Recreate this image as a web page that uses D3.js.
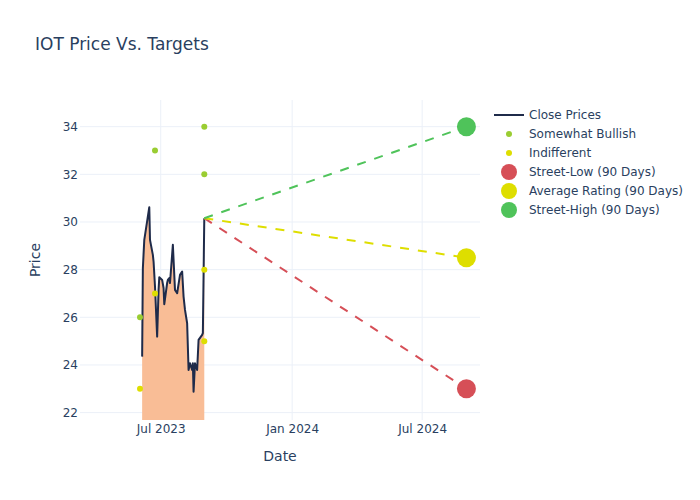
<!DOCTYPE html>
<html>
<head>
<meta charset="utf-8">
<script src="https://cdn.jsdelivr.net/npm/d3@7"></script>
<style>
  html, body { margin: 0; padding: 0; background: #fff; }
  svg { display: block; font-family: "DejaVu Sans", sans-serif; }
</style>
</head>
<body>
<svg id="chart" width="700" height="500"></svg>
<script>
// ---- data ----
const closeDates = ["2023-06-05","2023-06-06","2023-06-08","2023-06-15","2023-06-16","2023-06-20","2023-06-21","2023-06-23","2023-06-26","2023-06-28","2023-06-29","2023-07-03","2023-07-05","2023-07-06","2023-07-10","2023-07-11","2023-07-13","2023-07-14","2023-07-18","2023-07-21","2023-07-24","2023-07-28","2023-07-31","2023-08-02","2023-08-04","2023-08-07","2023-08-09","2023-08-11","2023-08-14","2023-08-15","2023-08-16","2023-08-18","2023-08-21","2023-08-23","2023-08-28","2023-08-29","2023-08-31"];
const closePrices = [24.35,28.06,29.25,30.62,29.25,28.62,28.34,27.29,25.19,27.15,27.68,27.57,27.23,26.55,27.44,27.57,27.65,27.44,29.04,27.15,27.01,27.78,27.92,26.87,26.31,25.75,23.79,24.07,23.79,24.07,22.88,24.07,23.79,25.05,25.26,25.34,30.16];

const bullishDates = ["2023-06-02","2023-06-23","2023-08-31","2023-08-31"];
const bullishValues = [26, 33, 34, 32];
const indifferentDates = ["2023-06-02","2023-06-23","2023-08-31","2023-08-31"];
const indifferentValues = [23, 27, 28, 25];

const targetStartDate = "2023-08-31";
const targetStartPrice = 30.16;
const targetDate = "2024-09-01";
const targetNames = ["Street-Low (90 Days)", "Average Rating (90 Days)", "Street-High (90 Days)"];
const targetValues = [23, 28.5, 34];
const targetColors = ["#d64f57", "#dede00", "#4fc35a"];

const xTickDates = ["2023-07-01","2024-01-01","2024-07-01"];
const xTickLabels = ["Jul 2023","Jan 2024","Jul 2024"];
const yTicks = [22,24,26,28,30,32,34];

// ---- layout ----
const parse = d3.utcParse("%Y-%m-%d");
const svg = d3.select("#chart");
const L = 80, R = 480, T = 100, B = 420;
const textColor = "#2a3f5f";
const gridColor = "#ebf0f8";
const fontFam = "'DejaVu Sans', sans-serif";

const x = d3.scaleUtc()
  .domain([parse("2023-03-10"), parse("2024-09-20")])
  .range([L, R]);
const y = d3.scaleLinear().domain([21.69, 35.12]).range([B, T]);

svg.append("defs").append("clipPath").attr("id","clip")
  .append("rect").attr("x", L).attr("y", T).attr("width", R-L).attr("height", B-T);

// grid
const grid = svg.append("g");
grid.selectAll(".gx").data(xTickDates).join("line")
  .attr("x1", d => x(parse(d))).attr("x2", d => x(parse(d)))
  .attr("y1", T).attr("y2", B).attr("stroke", gridColor).attr("stroke-width", 1);
grid.selectAll(".gy").data(yTicks).join("line")
  .attr("x1", L).attr("x2", R)
  .attr("y1", d => y(d)).attr("y2", d => y(d)).attr("stroke", gridColor).attr("stroke-width", 1);

// axes
const xAxis = d3.axisBottom(x)
  .tickValues(xTickDates.map(parse))
  .tickFormat((d, i) => xTickLabels[i])
  .tickSize(0).tickPadding(4);
const gx = svg.append("g").attr("transform", `translate(0,${B})`).call(xAxis);
gx.select(".domain").remove();
gx.selectAll("text").attr("fill", textColor).style("font-size", "12px").style("font-family", fontFam);

const yAxis = d3.axisLeft(y).tickValues(yTicks).tickFormat(d3.format("d")).tickSize(0).tickPadding(2);
const gy = svg.append("g").attr("transform", `translate(${L},0)`).call(yAxis);
gy.select(".domain").remove();
gy.selectAll("text").attr("fill", textColor).style("font-size", "12px").style("font-family", fontFam);

// plot content
const plot = svg.append("g").attr("clip-path", "url(#clip)");
const closeData = closeDates.map((d, i) => ({ date: parse(d), v: closePrices[i] }));

plot.append("path").datum(closeData)
  .attr("d", d3.area().x(d => x(d.date)).y0(y(0)).y1(d => y(d.v)))
  .attr("fill", "#f9bd96");
plot.append("path").datum(closeData)
  .attr("d", d3.line().x(d => x(d.date)).y(d => y(d.v)))
  .attr("fill", "none").attr("stroke", "#1f2b4a").attr("stroke-width", 2)
  .attr("stroke-linejoin", "round");

// target lines
targetValues.forEach((v, i) => {
  plot.append("line")
    .attr("x1", x(parse(targetStartDate))).attr("y1", y(targetStartPrice))
    .attr("x2", x(parse(targetDate))).attr("y2", y(v))
    .attr("stroke", targetColors[i]).attr("stroke-width", 2)
    .attr("stroke-dasharray", "9,9");
});

// analyst dots
plot.selectAll(".bull").data(bullishDates).join("circle")
  .attr("cx", d => x(parse(d))).attr("cy", (d, i) => y(bullishValues[i]))
  .attr("r", 3).attr("fill", "#9acd32");
plot.selectAll(".ind").data(indifferentDates).join("circle")
  .attr("cx", d => x(parse(d))).attr("cy", (d, i) => y(indifferentValues[i]))
  .attr("r", 3).attr("fill", "#dede00");

// target markers
svg.append("g").selectAll("circle").data(targetValues).join("circle")
  .attr("cx", x(parse(targetDate))).attr("cy", d => y(d))
  .attr("r", 9.5).attr("fill", (d, i) => targetColors[i]);

// titles
svg.append("text").attr("x", 35).attr("y", 50).text("IOT Price Vs. Targets")
  .attr("fill", textColor).style("font-size", "17px");
svg.append("text").attr("x", (L+R)/2).attr("y", 461).attr("text-anchor", "middle")
  .text("Date").attr("fill", textColor).style("font-size", "14px");
svg.append("text").attr("transform", `translate(40,${(T+B)/2}) rotate(-90)`)
  .attr("text-anchor", "middle").text("Price").attr("fill", textColor).style("font-size", "14px");

// legend
const legendItems = [
  { name: "Close Prices", type: "line", color: "#1f2b4a" },
  { name: "Somewhat Bullish", type: "dot", color: "#9acd32" },
  { name: "Indifferent", type: "dot", color: "#dede00" },
  { name: targetNames[0], type: "big", color: targetColors[0] },
  { name: targetNames[1], type: "big", color: targetColors[1] },
  { name: targetNames[2], type: "big", color: targetColors[2] }
];
const lg = svg.append("g");
legendItems.forEach((it, i) => {
  const ly = 115 + i * 19;
  if (it.type === "line") {
    lg.append("line").attr("x1", 494).attr("x2", 524).attr("y1", ly).attr("y2", ly)
      .attr("stroke", it.color).attr("stroke-width", 2);
  } else {
    lg.append("circle").attr("cx", 509).attr("cy", ly)
      .attr("r", it.type === "dot" ? 3 : 8).attr("fill", it.color);
  }
  lg.append("text").attr("x", 529).attr("y", ly).attr("dy", "0.35em")
    .text(it.name).attr("fill", textColor).style("font-size", "12px");
});
</script>
</body>
</html>
